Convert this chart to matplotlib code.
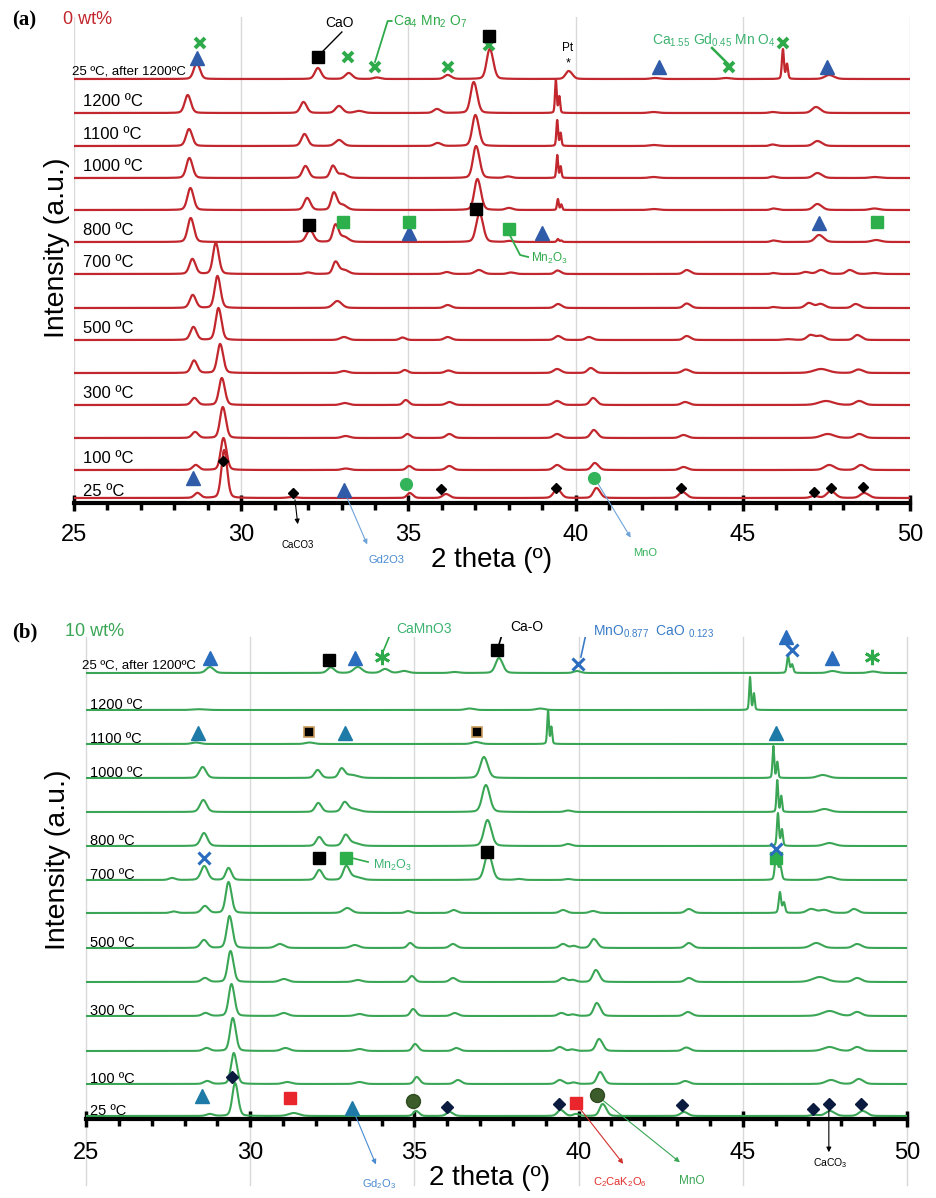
import numpy as np
import matplotlib
matplotlib.use("Agg")
import matplotlib.pyplot as plt
from matplotlib.ticker import MultipleLocator

plt.rcParams['font.family'] = ['Liberation Sans', 'DejaVu Sans']
plt.rcParams['mathtext.fontset'] = 'custom'
plt.rcParams['mathtext.rm'] = 'Liberation Sans'
plt.rcParams['mathtext.default'] = 'regular'

# ---------------- data: peaks (2theta, height, fwhm) ----------------
temps = ["25 ºC, after 1200ºC", "1200 ºC", "1100 ºC", "1000 ºC", "", "800 ºC",
         "700 ºC", "", "500 ºC", "", "300 ºC", "", "100 ºC", "25 ºC"]

A_after = [(28.65,16,0.14),(32.27,11,0.14),(33.19,6,0.16),(34.03,1.5,0.15),(36.15,4,0.15),
           (37.41,30,0.14),(39.77,8,0.14),(42.35,1,0.2),(44.47,1,0.2),(46.2,30,0.06),(47.55,4,0.2)]
A_1200 = [(28.38,18,0.14),(31.84,11,0.14),(32.9,7,0.16),(33.5,2,0.2),(35.83,4,0.15),
          (36.93,31,0.14),(39.41,33,0.05),(42.3,1,0.2),(45.87,1,0.15),(47.16,6,0.18)]
A_1100 = [(28.42,17,0.14),(31.87,12,0.14),(32.9,6,0.18),(35.85,3,0.15),(36.98,31,0.14),
          (39.45,26,0.05),(42.3,1,0.2),(45.87,1.5,0.12),(47.2,5,0.18)]
A_1000 = [(28.43,20,0.14),(31.9,12,0.14),(32.72,12,0.12),(33.0,4,0.2),(37.0,32,0.14),
          (37.95,1.5,0.15),(39.45,23,0.05),(42.3,1,0.2),(45.88,1.5,0.12),(47.2,5,0.18),(48.9,1,0.2)]
A_900 = [(28.46,22,0.14),(31.95,12,0.14),(32.75,17,0.12),(33.0,5,0.2),(37.04,31,0.14),
         (37.98,2,0.15),(39.47,11,0.05),(42.3,1,0.2),(45.9,1.5,0.12),(47.2,6,0.18),(48.9,1.5,0.2)]
A_800 = [(28.47,24,0.14),(32.03,12,0.16),(32.8,17,0.12),(33.05,5,0.2),(37.1,29,0.15),
         (38.0,1,0.15),(39.47,3,0.06),(45.9,1.5,0.12),(47.25,7,0.18),(48.95,2,0.2)]
A_700 = [(28.52,15,0.14),(29.22,31,0.13),(31.97,1.5,0.15),(32.8,12,0.12),(33.05,4,0.2),
         (36.12,2,0.15),(37.08,4,0.18),(38.04,1.5,0.15),(39.44,3.5,0.12),(43.3,4,0.14),
         (45.9,1,0.1),(46.85,2,0.15),(47.31,4,0.18),(48.17,4,0.15),(48.9,1,0.2)]
A_600 = [(28.53,13,0.14),(29.27,32,0.13),(32.85,7,0.2),(36.15,3,0.15),(39.45,4,0.14),
         (43.3,4.5,0.14),(45.9,1,0.1),(46.95,5,0.16),(47.3,4,0.16),(48.35,4,0.15)]
A_500 = [(28.55,13,0.14),(29.3,32,0.13),(33.05,3,0.18),(34.8,2.5,0.12),(36.15,3,0.15),
         (39.45,4,0.14),(40.37,3,0.14),(43.3,4,0.14),(46.3,0.8,0.2),(47.0,5,0.16),(47.3,4,0.16),(48.4,5,0.15)]
A_400 = [(28.57,12.5,0.14),(29.35,29,0.13),(33.05,2,0.18),(34.87,3,0.12),(36.17,2.5,0.15),
         (39.42,4,0.16),(40.43,5,0.14),(43.27,3.5,0.16),(47.3,4,0.35),(48.43,3.5,0.18)]
A_300 = [(28.58,7,0.14),(29.4,27,0.13),(33.07,2,0.18),(34.9,5,0.12),(36.2,3,0.15),
         (39.42,4,0.16),(40.5,7,0.14),(43.25,3,0.16),(47.45,4,0.35),(48.45,4,0.18)]
A_200 = [(28.6,6,0.14),(29.43,31,0.13),(33.1,2,0.18),(34.95,4,0.12),(36.2,4,0.15),
         (39.42,4,0.16),(40.52,8,0.14),(43.2,3,0.16),(47.5,4,0.3),(48.45,4,0.18)]
A_100 = [(28.62,5,0.14),(29.45,32,0.13),(33.1,1.5,0.18),(35.0,4,0.12),(36.2,4,0.15),
         (39.42,5,0.16),(40.55,7,0.14),(43.2,3,0.16),(47.55,5,0.22),(48.5,5,0.18)]
A_25 = [(28.67,5,0.14),(29.47,48,0.13),(31.5,1,0.2),(35.02,5,0.12),(36.1,4,0.15),
        (39.42,9,0.16),(40.6,10,0.14),(43.17,6,0.16),(47.1,2,0.15),(47.6,7,0.18),(48.6,5,0.18)]

B_after = [(28.75,6,0.18),(32.43,5.5,0.16),(33.25,6,0.2),(34.08,4,0.18),(34.66,2,0.2),(36.2,1,0.2),
           (37.55,15,0.16),(39.92,2,0.15),(46.38,17,0.07),(47.7,2,0.2),(48.93,1.5,0.2)]
B_1200 = [(28.4,0.8,0.3),(36.65,1.5,0.2),(38.8,1.5,0.2),(45.22,33,0.05)]
B_1100 = [(28.32,1.5,0.2),(31.78,1.5,0.2),(36.85,2,0.2),(39.07,34,0.05)]
B_1000 = [(28.53,11,0.16),(32.03,8,0.14),(32.76,9,0.13),(33.05,3,0.3),(37.09,21,0.17),
          (45.93,32,0.05),(47.4,3,0.25)]
B_900 = [(28.55,12,0.16),(32.05,9,0.14),(32.85,9,0.14),(33.1,3,0.3),(37.15,27,0.17),
         (39.65,1.5,0.15),(46.05,32,0.05),(47.45,3,0.25)]
B_800 = [(28.57,13,0.16),(32.08,9,0.14),(32.88,10,0.14),(33.1,3,0.3),(37.2,26,0.17),
         (39.65,2,0.15),(46.07,33,0.06),(47.6,3,0.25)]
B_700 = [(27.6,2,0.15),(28.58,14,0.16),(29.32,12,0.13),(32.08,10,0.14),(32.9,13,0.14),(33.15,3,0.3),
         (37.22,27,0.17),(38.15,1,0.15),(39.65,1,0.15),(46.02,28,0.08),(47.6,3,0.25)]
B_600 = [(27.65,1.5,0.15),(28.6,7,0.16),(29.32,31,0.13),(32.93,5,0.2),(34.78,2,0.12),(36.17,3,0.15),
         (39.5,3,0.15),(40.41,2,0.15),(43.33,4,0.15),(46.13,21,0.07),(47.05,4,0.2),(47.45,3,0.2),(48.36,4,0.15)]
B_500 = [(28.57,8,0.16),(29.35,32,0.13),(30.88,4,0.2),(33.16,3,0.2),(34.85,5,0.12),(36.15,4,0.15),
         (39.5,4,0.15),(39.83,2,0.12),(40.44,9,0.14),(43.33,5,0.15),(47.2,5,0.25),(48.45,4,0.18)]
B_400 = [(28.6,4,0.16),(29.38,31,0.13),(31.0,3,0.2),(33.25,2,0.2),(34.9,6,0.12),(36.15,4,0.15),
         (39.5,4,0.15),(39.8,2,0.12),(40.5,12,0.14),(43.33,4,0.16),(47.3,5,0.35),(48.45,4,0.18)]
B_300 = [(28.62,3,0.16),(29.41,32,0.13),(31.0,3,0.2),(33.3,2,0.2),(34.94,7,0.12),(36.2,3,0.15),
         (39.45,3,0.15),(39.8,1.5,0.12),(40.53,13,0.14),(43.3,4,0.16),(47.6,5,0.35),(48.45,4,0.18)]
B_200 = [(28.65,3,0.16),(29.45,33,0.13),(31.05,3,0.2),(33.3,2,0.2),(35.0,7,0.12),(36.25,3,0.15),
         (39.4,4,0.15),(39.78,1.5,0.12),(40.6,12,0.14),(43.25,3.5,0.16),(47.6,4,0.3),(48.45,4,0.18)]
B_100 = [(28.67,3,0.16),(29.48,31,0.13),(31.1,2,0.2),(33.3,2,0.2),(35.05,7,0.12),(36.3,4,0.15),
         (39.4,4,0.15),(39.82,1.5,0.12),(40.63,12,0.14),(43.22,3,0.16),(47.65,4,0.25),(48.5,5,0.18)]
B_25 = [(28.75,2,0.16),(29.52,33,0.13),(31.3,3,0.25),(35.03,5,0.12),(36.05,4,0.15),
        (39.43,6,0.15),(39.9,2,0.12),(40.71,12,0.14),(43.18,4,0.16),(47.15,1,0.15),(47.62,5,0.2),(48.62,5,0.18)]

A_patterns = [A_after, A_1200, A_1100, A_1000, A_900, A_800, A_700, A_600,
              A_500, A_400, A_300, A_200, A_100, A_25]
B_patterns = [B_after, B_1200, B_1100, B_1000, B_900, B_800, B_700, B_600,
              B_500, B_400, B_300, B_200, B_100, B_25]

# marker positions (2theta, intensity)
a_tri = [(28.68,445),(42.49,436),(47.52,436),(35.02,270),(38.99,270),(47.28,280),(28.56,25),(33.07,13)]
a_blacksq = [(32.30,446),(37.41,467),(32.03,278),(37.02,294)]
a_greensq = [(33.04,281),(35.02,281),(38.0,274),(49.01,281)]
a_greenx = [(28.77,460),(33.19,446),(34.0,436),(36.18,436),(37.41,458),(44.59,436),(46.2,460)]
a_diamond = [(29.46,42),(31.55,10),(35.97,14),(39.41,15),(43.15,15),(47.13,11),(47.64,15),(48.59,16)]
a_circle = [(34.93,19),(40.55,25)]

b_tri_top = [(28.78,461),(33.19,461),(46.32,482),(47.72,461)]
b_tri = [(28.41,386),(32.89,386),(46.01,386),(28.53,23),(33.1,11)]
b_blacksq = [(32.40,459),(37.52,469),(32.09,261),(37.21,267)]
b_orangesq = [(31.79,387),(36.91,387)]
b_greensq = [(32.92,261),(46.01,261)]
b_bluex = [(39.98,455),(46.5,469),(28.59,261),(46.01,270)]
b_aster = [(34.01,462),(48.93,462)]
b_diamond = [(29.45,42),(35.99,12),(39.4,15),(43.15,14),(47.14,10),(47.62,15),(48.6,15)]
b_redsq = [(31.21,21),(39.92,16)]
b_circle = [(34.96,18),(40.56,24)]

# ---------------- layout / style ----------------
W, H = 936, 1198
offsets_a = [424, 390, 357, 325, 293, 261, 229, 195, 163, 130, 98, 65, 33, 5]
offsets_b = [446, 409, 375, 341, 307, 273, 239, 206, 171, 137, 103, 68, 35, 3]
RED = '#C1272D'
GREEN = '#3AA655'
BROAD = 1.4      # instrumental broadening applied to the read widths
BROAD_SHARP = 1.2

x = np.linspace(25, 50, 6001)


def pv(xx, pos, fwhm):
    d = (xx - pos) / fwhm
    return 0.75 * np.exp(-4 * np.log(2) * d * d) + 0.25 / (1 + 4 * d * d)


def pattern(peaks):
    y = np.zeros_like(x)
    for pos, h, w in peaks:
        w = w * (BROAD if w >= 0.1 else BROAD_SHARP)
        d2 = np.degrees(2 * np.tan(np.radians(pos / 2)) * 0.00249)
        shape = pv(x, pos, w) + 0.5 * pv(x, pos + d2, w)
        y += h * shape / shape.max()
    return y


fig = plt.figure(figsize=(W / 100, H / 100), dpi=100)


def make_axes(l_px, r_px, top_px, bot_px, ylab_px, xlab_px, tickpad):
    ax = fig.add_axes([l_px / W, 1 - bot_px / H, (r_px - l_px) / W, (bot_px - top_px) / H])
    ax.set_xlim(25, 50)
    ax.set_ylim(0, bot_px - top_px)
    for s in ['top', 'left', 'right']:
        ax.spines[s].set_visible(False)
    ax.spines['bottom'].set_linewidth(3)
    ax.set_yticks([])
    ax.xaxis.set_major_locator(MultipleLocator(5))
    ax.xaxis.set_minor_locator(MultipleLocator(1))
    ax.tick_params(axis='x', which='major', direction='inout', length=12, width=2.5,
                   labelsize=17, pad=tickpad)
    ax.tick_params(axis='x', which='minor', direction='out', length=5, width=2.5)
    ax.set_xlabel('2 theta (º)', fontsize=20, va='center')
    ax.xaxis.set_label_coords((xlab_px[0] - l_px) / (r_px - l_px),
                              (bot_px - xlab_px[1]) / (bot_px - top_px))
    ax.set_ylabel('Intensity (a.u.)', fontsize=20.5, va='center')
    ax.yaxis.set_label_coords((ylab_px[0] - l_px) / (r_px - l_px),
                              (bot_px - ylab_px[1]) / (bot_px - top_px))
    ax.patch.set_alpha(0)
    return ax


# ---------- panel (a) ----------
axa = make_axes(74, 910, 17, 503, (57, 248), (492, 560), 9)
for g in range(25, 51, 5):
    axa.plot([g, g], [0, 486], color='#D9D9D9', lw=1, zorder=0)
for pk, off in zip(A_patterns, offsets_a):
    axa.plot(x, pattern(pk) + off, color=RED, lw=1.6, zorder=2)
for i, (lab, off) in enumerate(zip(temps, offsets_a)):
    if not lab:
        continue
    if i == 0:
        axa.text(24.94, off + 5, lab, fontsize=9.5, va='baseline', ha='left', clip_on=False, zorder=3)
    elif i == len(temps) - 1:
        axa.text(25.27, off + 1.5, lab, fontsize=12, va='baseline', ha='left', zorder=3)
    else:
        axa.text(25.27, off + 7, lab, fontsize=12, va='baseline', ha='left', zorder=3)

mk = dict(ls='none', clip_on=False, zorder=5)
axa.plot(*zip(*a_greenx), marker='x', ms=7, mew=2.8, color='#2FAA4A', **mk)
axa.plot(*zip(*a_tri), marker='^', ms=10, color='#2F5BA8', mec='#2F5BA8', **mk)
axa.plot(*zip(*a_blacksq), marker='s', ms=8.5, color='black', **mk)
axa.plot(*zip(*a_greensq), marker='s', ms=8.5, color='#2DB04B', **mk)
axa.plot(*zip(*a_diamond), marker='D', ms=5.5, color='black', **mk)
axa.plot(*zip(*a_circle), marker='o', ms=8.5, color='#33B35A', **mk)

axa.text(32.95, 480, 'CaO', fontsize=10, ha='center', va='center')
axa.plot([33.01, 32.42], [471, 451], color='black', lw=1)
axa.text(34.55, 481, r'Ca$_4$ Mn$_2$ O$_7$', fontsize=10, color='#2FAA4A', ha='left', va='center')
axa.plot([34.5, 34.38, 34.0], [482, 482, 441], color='#2FAA4A', lw=1.3)
axa.text(42.28, 463, r'Ca$_{1.55}$ Gd$_{0.45}$ Mn O$_4$', fontsize=10, color='#3CB371',
         ha='left', va='center')
axa.plot([44.08, 44.56], [455, 439], color='#2FAA4A', lw=1.8)
axa.text(39.77, 440, '*', fontsize=9, ha='center', va='center')
axa.text(39.77, 455, 'Pt', fontsize=8.5, ha='center', va='center')
axa.plot([38.0, 38.34, 38.58], [270, 248, 246], color='#2FAA4A', lw=1.3)
axa.text(38.67, 245, r'Mn$_2$O$_3$', fontsize=8.5, color='#2FAA4A', ha='left', va='center')
axa.annotate('', xy=(31.7, -24), xytext=(31.6, 6),
             arrowprops=dict(arrowstyle='-|>', color='black', lw=0.8, mutation_scale=7),
             annotation_clip=False)
axa.text(31.7, -42, 'CaCO3', fontsize=7, ha='center', va='center', clip_on=False)
axa.annotate('', xy=(33.8, -44), xytext=(33.13, 8),
             arrowprops=dict(arrowstyle='-|>', color='#6FA3D8', lw=0.8, mutation_scale=7),
             annotation_clip=False)
axa.text(34.36, -57, 'Gd2O3', fontsize=8, color='#4A8BD0', ha='center', va='center', clip_on=False)
axa.annotate('', xy=(41.69, -37), xytext=(40.64, 21),
             arrowprops=dict(arrowstyle='-|>', color='#6FA3D8', lw=0.8, mutation_scale=7),
             annotation_clip=False)
axa.text(42.08, -50, 'MnO', fontsize=8, color='#33B35A', ha='center', va='center', clip_on=False)

fig.text(12 / W, 1 - 20 / H, '(a)', fontsize=15, fontweight='bold',
         family=['Liberation Serif', 'DejaVu Serif'], va='center', ha='left')
fig.text(63 / W, 1 - 20 / H, '0 wt%', fontsize=13, color=RED, va='center', ha='left')

# ---------- panel (b) ----------
axb = make_axes(86, 907, 637, 1119, (58, 860), (490, 1178), 10.5)
for g in range(25, 51, 5):
    axb.plot([g, g], [-66, 482], color='#D9D9D9', lw=1, zorder=0, clip_on=False)
for pk, off in zip(B_patterns, offsets_b):
    axb.plot(x, pattern(pk) + off, color=GREEN, lw=1.5, zorder=2)
for i, (lab, off) in enumerate(zip(temps, offsets_b)):
    if not lab:
        continue
    if i == 0:
        axb.text(24.88, off + 5, lab, fontsize=9.5, va='baseline', ha='left', clip_on=False, zorder=3)
    else:
        axb.text(25.12, off + 1, lab, fontsize=10.5, va='baseline', ha='left', zorder=3)

axb.plot(*zip(*b_tri_top), marker='^', ms=10, color='#2A6DBE', **mk)
axb.plot(*zip(*b_tri), marker='^', ms=10, color='#1E7AA6', **mk)
axb.plot(*zip(*b_blacksq), marker='s', ms=8, color='black', **mk)
axb.plot(*zip(*b_orangesq), marker='s', ms=7.5, color='black', mec='#C89A5A', mew=1.2, **mk)
axb.plot(*zip(*b_greensq), marker='s', ms=8.5, color='#2DB04B', **mk)
axb.plot(*zip(*b_bluex), marker='x', ms=8.5, mew=2.2, color='#2A6DBE', **mk)
axb.plot(*zip(*b_aster), marker=(6, 2, 0), ms=11, mew=2, color='#2FAA4A', **mk)
axb.plot(*zip(*b_diamond), marker='D', ms=6, color='#0B1A3F', **mk)
axb.plot(*zip(*b_redsq), marker='s', ms=9, color='#E8262B', **mk)
axb.plot(*zip(*b_circle), marker='o', ms=10, color='#3D5C2C', mec='#2E4A20', **mk)

axb.text(34.45, 490, 'CaMnO3', fontsize=10, color='#3CB371', ha='left', va='center')
axb.plot([34.44, 34.32, 34.04], [489, 489, 467], color='#2FAA4A', lw=1.2)
axb.text(37.93, 492, 'Ca-O', fontsize=10, ha='left', va='center')
axb.plot([37.88, 37.72, 37.58], [492, 490, 475], color='black', lw=1.2)
axb.text(40.45, 487, r'MnO$_{0.877}$  CaO $_{0.123}$', fontsize=10, color='#3A7CC8',
         ha='left', va='center')
axb.plot([40.35, 40.23, 40.07], [487, 486, 462], color='#3A7CC8', lw=1.2)
axb.plot([33.1, 33.59], [261, 257], color='#2FAA4A', lw=1.2)
axb.text(33.74, 254, r'Mn$_2$O$_3$', fontsize=9, color='#3CB371', ha='left', va='center')

axb.annotate('', xy=(33.86, -48), xytext=(33.16, 7),
             arrowprops=dict(arrowstyle='-|>', color='#4A8BD0', lw=0.8, mutation_scale=7),
             annotation_clip=False)
axb.text(33.92, -65, r'Gd$_2$O$_3$', fontsize=8, color='#4A8BD0', ha='center', va='center', clip_on=False)
axb.annotate('', xy=(41.41, -47), xytext=(39.98, 13),
             arrowprops=dict(arrowstyle='-|>', color='#D0302C', lw=0.8, mutation_scale=7),
             annotation_clip=False)
axb.text(41.26, -63, r'C$_2$CaK$_2$O$_6$', fontsize=8, color='#E0302C', ha='center', va='center',
         clip_on=False)
axb.annotate('', xy=(43.15, -45), xytext=(40.65, 21),
             arrowprops=dict(arrowstyle='-|>', color='#3AA655', lw=0.8, mutation_scale=7),
             annotation_clip=False)
axb.text(43.45, -62, 'MnO', fontsize=8.5, color='#3AA655', ha='center', va='center', clip_on=False)
axb.annotate('', xy=(47.62, -36), xytext=(47.62, 11),
             arrowprops=dict(arrowstyle='-|>', color='black', lw=0.8, mutation_scale=7),
             annotation_clip=False)
axb.text(47.65, -44, r'CaCO$_3$', fontsize=7.5, ha='center', va='center', clip_on=False)

fig.text(12 / W, 1 - 632 / H, '(b)', fontsize=15, fontweight='bold',
         family=['Liberation Serif', 'DejaVu Serif'], va='center', ha='left')
fig.text(65 / W, 1 - 632 / H, '10 wt%', fontsize=13, color=GREEN, va='center', ha='left')

fig.savefig('out.png', dpi=100)
